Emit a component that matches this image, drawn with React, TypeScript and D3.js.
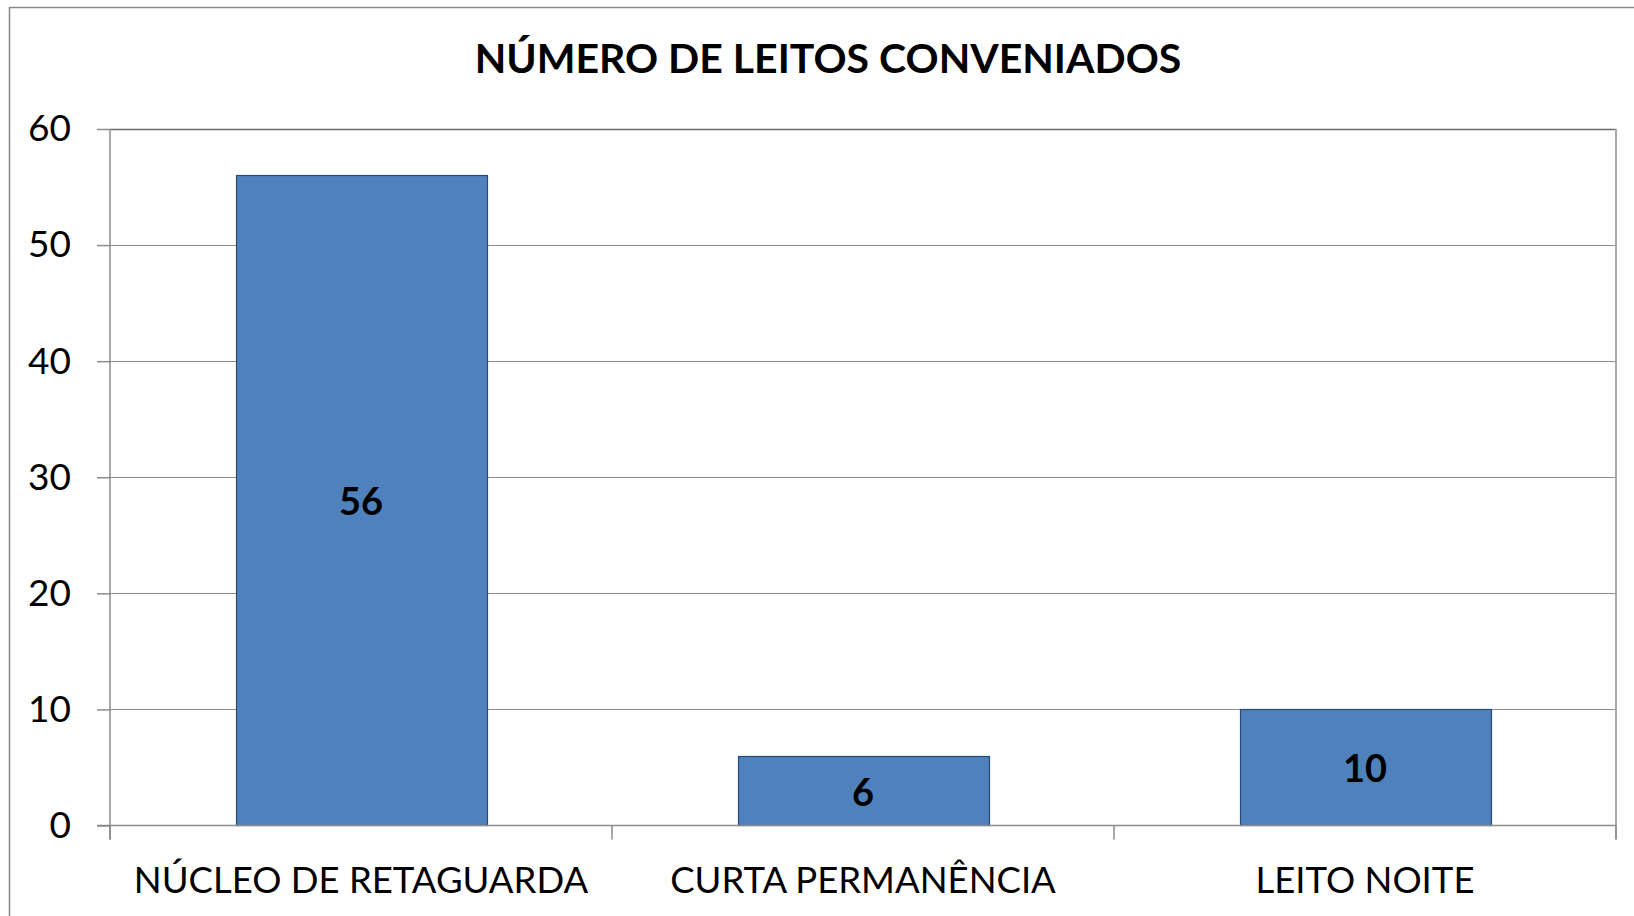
import React, {useEffect, useRef} from "react";
import * as d3 from "d3";

const categorias: string[] = ["NÚCLEO DE RETAGUARDA", "CURTA PERMANÊNCIA", "LEITO NOITE"];
const valores: number[] = [56, 6, 10];
const ticksY: number[] = [0, 10, 20, 30, 40, 50, 60];
const titulo = "NÚMERO DE LEITOS CONVENIADOS";

type Margem = Record<"top" | "bottom" | "left" | "right", number>;

const largura = 1634;
const altura = 916;
const margem: Margem = {top: 129, bottom: 90, left: 110, right: 18};
const fonte = "Lato, 'Open Sans', sans-serif";

function GraficoBarra() {
    const ref = useRef<SVGSVGElement>(null);

    useEffect(() => {
        const svg = d3.select(ref.current);
        svg.selectAll("*").remove();

        const x = d3
            .scaleBand()
            .domain(categorias)
            .range([margem.left, largura - margem.right])
            .paddingInner(0.5)
            .paddingOuter(0.25);

        const y = d3
            .scaleLinear()
            .domain([0, 60])
            .range([altura - margem.bottom - 0.5, margem.top]);

        // moldura externa
        svg.append("rect")
            .attr("x", 9.5)
            .attr("y", 7.5)
            .attr("width", 1700)
            .attr("height", 1000)
            .attr("fill", "white")
            .attr("stroke", "#868686")
            .attr("stroke-width", 1.5);

        svg.append("text")
            .attr("x", 828)
            .attr("y", 73)
            .attr("text-anchor", "middle")
            .style("font-family", fonte)
            .style("font-weight", "bold")
            .style("font-size", "41px")
            .attr("fill", "black")
            .text(titulo);

        // grade
        svg.append("g")
            .selectAll("line")
            .data(ticksY.filter(t => t > 0))
            .join("line")
            .attr("x1", margem.left)
            .attr("x2", largura - margem.right)
            .attr("y1", d => Math.round(y(d)) + 0.5)
            .attr("y2", d => Math.round(y(d)) + 0.5)
            .attr("stroke", d => d === 60 ? "#6e6e6e" : "#8c8c8c")
            .attr("stroke-width", d => d === 60 ? 1.5 : 1.2);

        // borda direita da área de plotagem
        svg.append("line")
            .attr("x1", largura - margem.right)
            .attr("x2", largura - margem.right)
            .attr("y1", y(60))
            .attr("y2", y(0) + 14)
            .attr("stroke", "#a8a8a8")
            .attr("stroke-width", 2);

        // barras
        svg.append("g")
            .selectAll("rect")
            .data(valores)
            .join("rect")
            .attr("x", (_, i) => Math.round(x(categorias[i]) ?? 0) + 0.5)
            .attr("width", Math.round(x.bandwidth()))
            .attr("y", d => Math.round(y(d)) + 0.5)
            .attr("height", d => y(0) - Math.round(y(d)) - 0.5)
            .attr("fill", "#4f81bd")
            .attr("stroke", "#284a72")
            .attr("stroke-width", 1.2);

        // rótulos das barras
        svg.append("g")
            .selectAll("text")
            .data(valores)
            .join("text")
            .attr("x", (_, i) => (x(categorias[i]) ?? 0) + x.bandwidth() / 2)
            .attr("y", d => (y(d) + y(0)) / 2 + 15)
            .attr("text-anchor", "middle")
            .style("font-family", fonte)
            .style("font-weight", "bold")
            .style("font-size", "38px")
            .attr("fill", "black")
            .text(d => `${d}`);

        // eixo Y
        svg.append("g")
            .attr("transform", `translate(${margem.left}, 0)`)
            .call(d3.axisLeft(y).tickValues(ticksY).tickSize(13).tickPadding(26))
            .call(g => g.select(".domain").remove())
            .call(g => g.selectAll(".tick line").attr("stroke", "#8c8c8c").attr("stroke-width", 1.5))
            .call(g => g.selectAll(".tick text")
                .style("font-family", fonte)
                .style("font-size", "37px")
                .attr("fill", "black"));

        svg.append("line")
            .attr("x1", margem.left)
            .attr("x2", margem.left)
            .attr("y1", y(60))
            .attr("y2", y(0) + 14)
            .attr("stroke", "#8c8c8c")
            .attr("stroke-width", 1.5);

        // eixo X
        const limites = categorias.map((c) => (x(c) ?? 0) - x.step() * 0.25);
        limites.push(largura - margem.right);
        svg.append("line")
            .attr("x1", margem.left - 13)
            .attr("x2", largura - margem.right)
            .attr("y1", y(0))
            .attr("y2", y(0))
            .attr("stroke", "#8c8c8c")
            .attr("stroke-width", 1.5);
        svg.append("g")
            .selectAll("line")
            .data(limites)
            .join("line")
            .attr("x1", d => d)
            .attr("x2", d => d)
            .attr("y1", y(0))
            .attr("y2", y(0) + 14)
            .attr("stroke", "#8c8c8c")
            .attr("stroke-width", 1.5);

        svg.append("g")
            .selectAll("text")
            .data(categorias)
            .join("text")
            .attr("x", d => (x(d) ?? 0) + x.bandwidth() / 2)
            .attr("y", 893)
            .attr("text-anchor", "middle")
            .style("font-family", fonte)
            .style("font-size", "36.5px")
            .attr("fill", "black")
            .text(d => d);
    }, []);

    return <svg
        ref={ref}
        width={largura}
        height={altura}
        style={{position: "absolute", left: 0, top: 0, background: "white"}}
    />;
}

export default function App() {
    return <GraficoBarra/>;
}
